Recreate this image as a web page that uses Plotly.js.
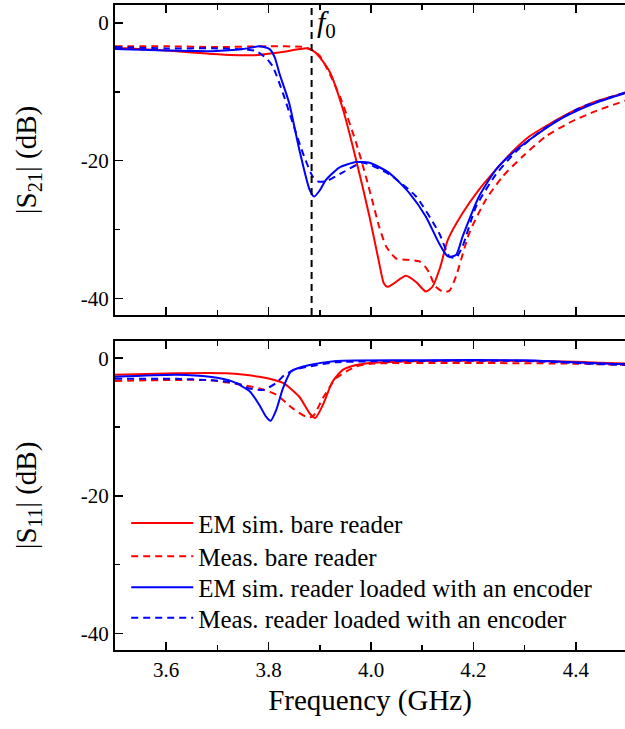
<!DOCTYPE html>
<html>
<head>
<meta charset="utf-8">
<script src="https://cdn.plot.ly/plotly-3.0.1.min.js"></script>
<style>html,body{margin:0;padding:0;background:#fff;}#chart{width:625px;height:729px;}</style>
</head>
<body>
<div id="chart"></div>
<script>
// ---------- data ----------
const seriesNames = ["EM sim. bare reader", "Meas. bare reader",
  "EM sim. reader loaded with an encoder", "Meas. reader loaded with an encoder"];
const f0 = 3.884;

// |S21| (dB)
const s21SimBareF = [3.50,3.60,3.69,3.77,3.82,3.86,3.875,3.89,3.90,3.92,3.945,3.971,3.997,4.015,4.025,4.032,4.045,4.068,4.088,4.107,4.12,4.135,4.15,4.179,4.211,4.244,4.276,4.309,4.341,4.374,4.406,4.439,4.50];
const s21SimBare  = [-3.6,-4.0,-4.5,-4.7,-4.3,-3.8,-3.7,-4.2,-5.0,-7.2,-12.5,-19.9,-28.1,-34.5,-37.8,-38.3,-37.8,-36.7,-37.6,-39.0,-38.3,-35.5,-31.5,-27.6,-24.2,-21.3,-18.7,-16.5,-15.0,-13.6,-12.4,-11.4,-10.1];

const s21MeasBareF = [3.50,3.60,3.70,3.80,3.87,3.885,3.90,3.92,3.942,3.971,3.990,4.005,4.016,4.030,4.049,4.075,4.094,4.105,4.114,4.125,4.14,4.153,4.166,4.192,4.224,4.257,4.296,4.341,4.387,4.439,4.50];
const s21MeasBare  = [-3.4,-3.4,-3.5,-3.4,-3.5,-3.9,-4.8,-7.5,-11.2,-17.4,-22.3,-26.5,-29.6,-32.5,-34.2,-34.4,-34.6,-35.3,-36.3,-38.2,-39.0,-38.9,-36.8,-30.5,-25.7,-22.3,-19.4,-16.5,-14.5,-12.8,-11.2];

const s21SimLoadF = [3.50,3.60,3.69,3.75,3.782,3.802,3.812,3.821,3.840,3.860,3.880,3.889,3.90,3.912,3.938,3.971,3.997,4.036,4.075,4.107,4.133,4.150,4.166,4.179,4.211,4.244,4.276,4.309,4.374,4.439,4.50];
const s21SimLoad  = [-3.8,-4.0,-4.1,-3.8,-3.4,-3.8,-5.0,-7.3,-11.6,-18.4,-24.2,-25.2,-24.3,-22.8,-21.0,-20.2,-20.3,-21.8,-24.7,-28.1,-32.0,-33.9,-33.7,-31.0,-25.2,-21.3,-18.9,-17.0,-13.8,-11.6,-10.1];

const s21MeasLoadF = [3.50,3.60,3.70,3.76,3.776,3.795,3.808,3.828,3.847,3.867,3.886,3.896,3.912,3.945,3.984,4.036,4.088,4.133,4.153,4.166,4.179,4.205,4.244,4.283,4.341,4.406,4.50];
const s21MeasLoad  = [-3.5,-3.7,-3.7,-3.9,-4.1,-5.1,-6.3,-10.2,-14.5,-18.9,-22.3,-23.0,-23.0,-21.7,-20.3,-22.0,-25.2,-30.5,-33.9,-34.1,-32.4,-26.7,-22.0,-18.7,-15.2,-12.4,-10.0];

// |S11| (dB)
const s11SimBareF = [3.50,3.62,3.717,3.782,3.828,3.860,3.880,3.891,3.906,3.925,3.945,3.971,3.997,4.10,4.30,4.40,4.50];
const s11SimBare  = [-2.4,-2.2,-2.2,-2.7,-3.6,-5.6,-8.0,-8.7,-6.8,-3.4,-1.7,-1.0,-0.7,-0.4,-0.4,-0.5,-0.8];

const s11MeasBareF = [3.50,3.685,3.75,3.782,3.815,3.847,3.873,3.886,3.906,3.932,3.971,4.00,4.20,4.40,4.50];
const s11MeasBare  = [-3.3,-3.2,-3.9,-4.4,-5.3,-7.3,-8.5,-8.5,-5.8,-2.9,-1.2,-0.8,-0.7,-0.8,-1.0];

const s11SimLoadF = [3.50,3.62,3.685,3.730,3.763,3.782,3.795,3.804,3.815,3.828,3.844,3.880,3.932,4.10,4.30,4.37,4.465,4.50];
const s11SimLoad  = [-2.7,-2.4,-2.7,-3.4,-4.8,-6.8,-8.5,-9.1,-7.5,-4.4,-1.9,-1.0,-0.4,-0.3,-0.3,-0.5,-0.8,-0.85];

const s11MeasLoadF = [3.50,3.62,3.685,3.737,3.763,3.79,3.815,3.83,3.85,3.88,3.93,4.10,4.30,4.40,4.50];
const s11MeasLoad  = [-3.0,-3.0,-3.2,-3.6,-4.4,-4.6,-3.6,-2.5,-1.7,-1.2,-0.6,-0.4,-0.4,-0.7,-1.0];

const xTickVals = [3.6,3.8,4.0,4.2,4.4];
const xTickText = ["3.6","3.8","4.0","4.2","4.4"];
const yTickVals = [0,-20,-40];
const yTickText = ["0","-20","-40"];

// ---------- styling ----------
const RED = "#ff0000", BLUE = "#0000ff";
const DASH = "7px,5px";
const FONT = "'Liberation Serif', 'Times New Roman', serif";

function tr(x, y, name, color, dash, xa, ya, legend) {
  const t = {x: x, y: y, name: name, type: "scatter", mode: "lines",
    line: {color: color, width: 2, dash: dash, shape: "spline", smoothing: 0.6},
    xaxis: xa, yaxis: ya, showlegend: !!legend, hoverinfo: "skip"};
  if (legend) t.legend = legend;
  return t;
}

const data = [
  tr(s21SimBareF, s21SimBare, seriesNames[0], RED, "solid", "x", "y", null),
  tr(s21MeasBareF, s21MeasBare, seriesNames[1], RED, DASH, "x", "y", null),
  tr(s21SimLoadF, s21SimLoad, seriesNames[2], BLUE, "solid", "x", "y", null),
  tr(s21MeasLoadF, s21MeasLoad, seriesNames[3], BLUE, DASH, "x", "y", null),
  tr(s11SimBareF, s11SimBare, seriesNames[0], RED, "solid", "x2", "y2", "legend"),
  tr(s11MeasBareF, s11MeasBare, seriesNames[1], RED, DASH, "x2", "y2", "legend2"),
  tr(s11SimLoadF, s11SimLoad, seriesNames[2], BLUE, "solid", "x2", "y2", "legend3"),
  tr(s11MeasLoadF, s11MeasLoad, seriesNames[3], BLUE, DASH, "x2", "y2", "legend4")
];

const xBase = {
  range: [3.5, 4.4961], showgrid: false, zeroline: false,
  showline: true, linecolor: "#000", linewidth: 2, mirror: "ticks",
  ticks: "inside", ticklen: 8, tickwidth: 1.5, tickcolor: "#000",
  tickvals: xTickVals, ticktext: xTickText,
  minor: {tick0: 3.5, dtick: 0.1, ticks: "inside", ticklen: 5, tickwidth: 1.5, tickcolor: "#000"},
  tickfont: {family: FONT, size: 21, color: "#000"}
};
const yBase = {
  range: [-42.4, 2.6], showgrid: false, zeroline: false,
  showline: true, linecolor: "#000", linewidth: 2, mirror: false,
  ticks: "inside", ticklen: 8, tickwidth: 1.5, tickcolor: "#000",
  tickvals: yTickVals, ticktext: yTickText,
  minor: {tick0: 0, dtick: 10, ticks: "inside", ticklen: 5, tickwidth: 1.5, tickcolor: "#000"},
  tickfont: {family: FONT, size: 21, color: "#000"}
};

function leg(yPaper) {
  return {x: 0.022, y: yPaper, xanchor: "left", yanchor: "middle",
    bgcolor: "rgba(0,0,0,0)", borderwidth: 0, itemwidth: 62,
    font: {family: FONT, size: 25, color: "#000"}};
}

const layout = {
  width: 625, height: 729,
  margin: {l: 115, r: 0, t: 5, b: 79},
  paper_bgcolor: "#fff", plot_bgcolor: "#fff",
  font: {family: FONT, color: "#000"},
  xaxis: Object.assign({}, xBase, {domain: [0, 1], anchor: "y", showticklabels: false}),
  yaxis: Object.assign({}, yBase, {domain: [0.5194, 1], anchor: "x",
    title: {text: "|S<sub>21</sub>| (dB)", font: {family: FONT, size: 29, color: "#000"}, standoff: 36}}),
  xaxis2: Object.assign({}, xBase, {domain: [0, 1], anchor: "y2",
    title: {text: "Frequency (GHz)", font: {family: FONT, size: 29, color: "#000"}, standoff: 8}}),
  yaxis2: Object.assign({}, yBase, {domain: [0, 0.4791], anchor: "x2", range: [-42.4, 2.5],
    title: {text: "|S<sub>11</sub>| (dB)", font: {family: FONT, size: 29, color: "#000"}, standoff: 36}}),
  legend: leg(0.1964),
  legend2: leg(0.1450),
  legend3: leg(0.0969),
  legend4: leg(0.0496),
  shapes: [{type: "line", xref: "x", yref: "y domain", x0: f0, x1: f0, y0: 0, y1: 1,
    line: {color: "#000", width: 2, dash: "7px,5px"}}],
  annotations: [{xref: "x", yref: "y", x: f0, y: 2.6, xanchor: "left", yanchor: "top",
    xshift: 3, yshift: 2, showarrow: false, text: "<i>f</i><sub>0</sub>",
    font: {family: FONT, size: 30, color: "#000"}}]
};

Plotly.newPlot("chart", data, layout, {staticPlot: true, displayModeBar: false});
</script>
</body>
</html>
